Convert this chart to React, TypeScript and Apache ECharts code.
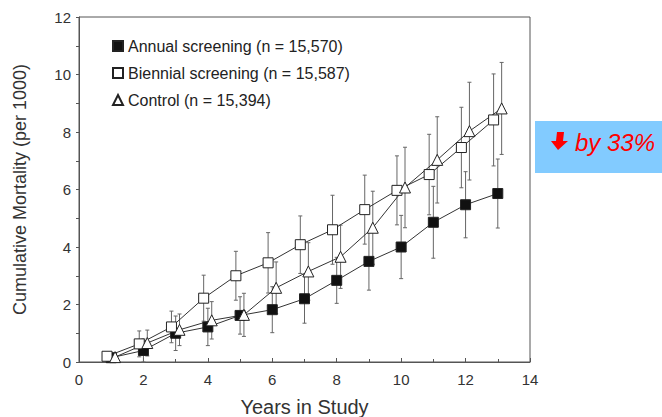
import React, { useEffect, useRef } from "react";
import * as echarts from "echarts";

const years = [1, 2, 3, 4, 5, 6, 7, 8, 9, 10, 11, 12, 13];
const annual = [0.15, 0.4, 1.0, 1.22, 1.62, 1.82, 2.2, 2.84, 3.5, 4.0, 4.86, 5.47, 5.86];
const annualErr = [0.1, 0.4, 0.6, 0.65, 0.65, 0.8, 0.85, 0.8, 1.0, 1.1, 1.25, 1.15, 1.2];
const biennial = [0.2, 0.63, 1.22, 2.22, 3.0, 3.45, 4.08, 4.6, 5.3, 5.97, 6.52, 7.46, 8.42];
const biennialErr = [0.12, 0.45, 0.55, 0.8, 0.85, 1.05, 1.0, 1.2, 1.2, 1.2, 1.4, 1.4, 1.6];
const control = [0.17, 0.66, 1.12, 1.45, 1.64, 2.58, 3.15, 3.66, 4.67, 6.07, 7.03, 8.03, 8.82];
const controlErr = [0.12, 0.45, 0.55, 0.65, 0.75, 0.9, 1.0, 1.1, 1.27, 1.4, 1.5, 1.7, 1.6];

const seriesNames = [
  "Annual screening (n = 15,570)",
  "Biennial screening (n = 15,587)",
  "Control (n = 15,394)",
];
const annotation = "by 33%";

const FONT = "'Liberation Sans', Arial, sans-serif";

export default function App() {
  const ref = useRef<HTMLDivElement>(null);
  useEffect(() => {
    if (!ref.current) return;
    const chart = echarts.init(ref.current, null, { renderer: "svg" });
    const shift = [0, -0.13, 0.12];
    const vals = [annual, biennial, control];
    const errs = [annualErr, biennialErr, controlErr];

    const errSeries = vals.map((v, i) => ({
      type: "custom",
      z: 1,
      silent: true,
      data: years.map((y, k) => [y + shift[i], v[k] - errs[i][k], v[k] + errs[i][k]]),
      renderItem: (params: any, api: any) => {
        const lo = api.coord([api.value(0), api.value(1)]);
        const hi = api.coord([api.value(0), api.value(2)]);
        const w = 2;
        const st = { stroke: "#666", lineWidth: 1 };
        return {
          type: "group",
          children: [
            { type: "line", shape: { x1: lo[0], y1: lo[1], x2: hi[0], y2: hi[1] }, style: st },
            { type: "line", shape: { x1: lo[0] - w, y1: lo[1], x2: lo[0] + w, y2: lo[1] }, style: st },
            { type: "line", shape: { x1: hi[0] - w, y1: hi[1], x2: hi[0] + w, y2: hi[1] }, style: st },
          ],
        };
      },
    }));

    const symbols = ["rect", "rect", "triangle"];
    const fills = ["#111", "#fff", "#fff"];
    const sizes = [10, 10, 11];
    const lineSeries = vals.map((v, i) => ({
      type: "line",
      name: seriesNames[i],
      z: 3,
      data: years.map((y, k) => [y + shift[i], v[k]]),
      symbol: symbols[i],
      symbolSize: sizes[i],
      showAllSymbol: true,
      lineStyle: { color: "#333", width: 1 },
      itemStyle: { color: fills[i], borderColor: "#222", borderWidth: 1 },
    }));

    chart.setOption({
      animation: false,
      backgroundColor: "#fff",
      grid: {
        left: 79,
        right: 132,
        top: 17,
        bottom: 55,
        containLabel: false,
        outerBoundsMode: "none",
        show: true,
        borderColor: "#555",
        borderWidth: 1,
        backgroundColor: "transparent",
      },
      legend: {
        orient: "vertical",
        left: 107,
        top: 33,
        itemGap: 11,
        itemWidth: 10,
        itemHeight: 10,
        textStyle: { fontFamily: FONT, fontSize: 16, color: "#222" },
        data: [
          { name: seriesNames[0], icon: "rect" },
          { name: seriesNames[1], icon: "rect" },
          { name: seriesNames[2], icon: "triangle" },
        ],
      },
      xAxis: {
        type: "value",
        min: 0,
        max: 14,
        interval: 2,
        name: "Years in Study",
        nameLocation: "middle",
        nameGap: 35,
        nameTextStyle: { fontFamily: FONT, fontSize: 20, color: "#333" },
        axisLine: { show: true, lineStyle: { color: "#555" } },
        axisTick: { show: true, inside: true, length: 4, lineStyle: { color: "#555" } },
        minorTick: { show: true, splitNumber: 2, length: 3, lineStyle: { color: "#555" } },
        splitLine: { show: false },
        axisLabel: { fontFamily: FONT, fontSize: 15, color: "#333", margin: 10 },
      },
      yAxis: {
        type: "value",
        min: 0,
        max: 12,
        interval: 2,
        name: "Cumulative Mortality (per 1000)",
        nameLocation: "middle",
        nameGap: 50,
        nameTextStyle: { fontFamily: FONT, fontSize: 18, color: "#333" },
        axisLine: { show: true, lineStyle: { color: "#555" } },
        axisTick: { show: true, inside: false, length: 3, lineStyle: { color: "#555" } },
        minorTick: { show: true, splitNumber: 2, length: 3, lineStyle: { color: "#555" } },
        splitLine: { show: false },
        axisLabel: { fontFamily: FONT, fontSize: 15, color: "#333", margin: 8 },
      },
      graphic: [
        {
          type: "rect",
          shape: { x: 535, y: 121, width: 127, height: 52 },
          style: { fill: "#82CBFF" },
        },
        {
          type: "polygon",
          shape: {
            points: [
              [557, 132],
              [564, 132],
              [563, 141],
              [568, 141],
              [558, 150],
              [551, 141],
              [556, 141],
            ],
          },
          style: { fill: "#FF0000" },
        },
        {
          type: "text",
          x: 575,
          y: 142,
          style: {
            text: annotation,
            fill: "#FF0000",
            font: "italic 24px " + FONT,
            verticalAlign: "middle",
            align: "left",
          },
        },
      ],
      series: [...errSeries, ...lineSeries],
    });
    return () => chart.dispose();
  }, []);
  return (
    <div
      ref={ref}
      style={{ position: "absolute", left: 0, top: 0, width: 662, height: 417 }}
    />
  );
}
